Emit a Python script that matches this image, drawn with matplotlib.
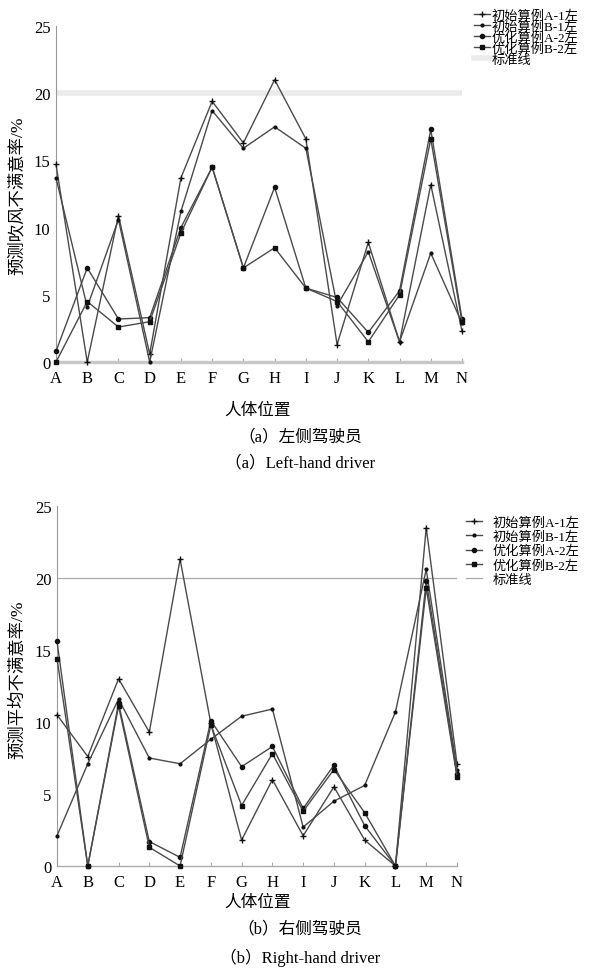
import matplotlib
matplotlib.use("Agg")
import matplotlib.pyplot as plt

plt.rcParams['font.family'] = ['Liberation Serif', 'Noto Sans CJK SC']

# positions along the body
positions = ['A', 'B', 'C', 'D', 'E', 'F', 'G', 'H', 'I', 'J', 'K', 'L', 'M', 'N']
labels = ['初始算例A-1左', '初始算例B-1左', '优化算例A-2左', '优化算例B-2左']
std_label = '标准线'
standard = 20

# (a) left-hand driver
left_a1 = [14.7, 0.0, 10.9, 0.6, 13.7, 19.4, 16.3, 21.0, 16.6, 1.3, 8.9, 1.5, 13.2, 2.3]
left_b1 = [13.7, 4.1, 10.6, 0.0, 11.2, 18.7, 15.9, 17.5, 15.9, 4.2, 8.2, 1.5, 8.1, 2.9]
left_a2 = [0.8, 7.0, 3.2, 3.3, 10.0, 14.5, 7.0, 13.0, 5.5, 4.8, 2.2, 5.3, 17.3, 3.2]
left_b2 = [0.0, 4.5, 2.6, 3.0, 9.6, 14.5, 7.0, 8.5, 5.5, 4.5, 1.5, 5.0, 16.6, 3.0]

# (b) right-hand driver
right_a1 = [10.5, 7.6, 13.0, 9.3, 21.3, 9.9, 1.8, 6.0, 2.1, 5.5, 1.8, 0.0, 23.5, 7.1]
right_b1 = [2.1, 7.1, 11.6, 7.5, 7.1, 8.8, 10.4, 10.9, 2.7, 4.5, 5.6, 10.7, 20.6, 6.7]
right_a2 = [15.6, 0.0, 11.3, 1.7, 0.6, 10.1, 6.9, 8.3, 4.0, 7.0, 2.8, 0.0, 19.8, 6.4]
right_b2 = [14.4, 0.0, 11.1, 1.3, 0.0, 9.8, 4.2, 7.8, 3.8, 6.7, 3.7, 0.0, 19.3, 6.2]

markers = [('+', 5), ('.', 4), ('o', 3), ('s', 3.5)]

fig = plt.figure(figsize=(6.06, 9.78), dpi=100)
ax1 = fig.add_axes([56/606, 1-363/978, 406/606, 336/978])
ax2 = fig.add_axes([57/606, 1-867/978, 400/606, 360/978])


def draw(ax, series, std_color, std_lw, axis_color, axis_lw):
    x = list(range(len(positions)))
    for vals, lab, (m, ms) in zip(series, labels, markers):
        ax.plot(x, vals, color='#4a4a4a', lw=1.0, marker=m, ms=ms,
                mfc='#111111', mec='#111111', label=lab, clip_on=False, zorder=3)
    ax.axhline(standard, color=std_color, lw=std_lw, label=std_label, zorder=1)
    ax.set_xlim(0, 13)
    ax.set_ylim(0, 25)
    ax.set_xticks(x)
    ax.set_xticklabels(positions)
    ax.set_yticks([0, 5, 10, 15, 20, 25])
    for s in ['top', 'right']:
        ax.spines[s].set_visible(False)
    ax.spines['left'].set_color('#999999')
    ax.spines['bottom'].set_color(axis_color)
    ax.spines['bottom'].set_linewidth(axis_lw)
    ax.tick_params(axis='y', length=0, pad=4, labelsize=12)
    ax.tick_params(axis='x', length=3, direction='in', color='#aaaaaa', pad=6, labelsize=12)


draw(ax1, [left_a1, left_b1, left_a2, left_b2], '#ebebeb', 4, '#c8c8c8', 2.5)
draw(ax2, [right_a1, right_b1, right_a2, right_b2], '#aaaaaa', 0.9, '#aaaaaa', 1.0)

ax1.legend(loc='upper left', bbox_to_anchor=(474/606, 1-10/978), bbox_transform=fig.transFigure,
           frameon=False, fontsize=9.5, handlelength=1.2, handletextpad=0.15,
           labelspacing=-0.1, borderpad=0, borderaxespad=0)
ax2.legend(loc='upper left', bbox_to_anchor=(466/606, 1-517/978), bbox_transform=fig.transFigure,
           frameon=False, fontsize=9.5, handlelength=1.2, handletextpad=0.8,
           labelspacing=0.15, borderpad=0, borderaxespad=0)

fig.text(18/606, 1-196/978, '预测吹风不满意率/%', rotation=90, ha='center', va='center', fontsize=12.5)
fig.text(18/606, 1-680/978, '预测平均不满意率/%', rotation=90, ha='center', va='center', fontsize=12.5)

fig.text(258/606, 1-411/978, '人体位置', ha='center', va='center', fontsize=12)
fig.text(300/606, 1-437/978, '（a）左侧驾驶员', ha='center', va='center', fontsize=12)
fig.text(300/606, 1-463/978, '（a）Left-hand driver', ha='center', va='center', fontsize=12)

fig.text(258/606, 1-903/978, '人体位置', ha='center', va='center', fontsize=12)
fig.text(300/606, 1-929/978, '（b）右侧驾驶员', ha='center', va='center', fontsize=12)
fig.text(300/606, 1-958/978, '（b）Right-hand driver', ha='center', va='center', fontsize=12)

fig.savefig('out.png', dpi=100)
